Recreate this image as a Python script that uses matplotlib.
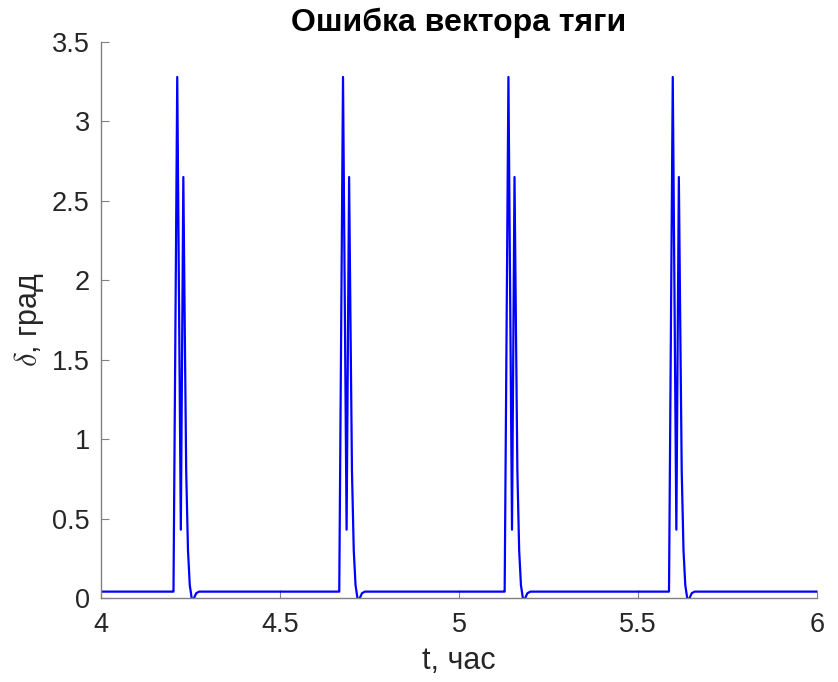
import numpy as np
import matplotlib.pyplot as plt

plt.rcParams['font.family'] = ['Liberation Sans', 'DejaVu Sans']
plt.rcParams['mathtext.fontset'] = 'cm'

# Данные
x_range = [4, 6]
spike_starts = [4.202, 4.665, 5.127, 5.586]
# форма одного всплеска: смещение по времени (час) и значение (град)
shape_dt = [0.0, 0.0005, 0.011, 0.021, 0.028, 0.032, 0.036, 0.041, 0.046, 0.052, 0.057, 0.064, 0.072]
shape_val = [0.04, 0.04, 3.28, 0.43, 2.65, 1.70, 0.80, 0.30, 0.08, -0.01, -0.005, 0.03, 0.04]
baseline = 0.04

t = [x_range[0]]
d = [baseline]
for s in spike_starts:
    for dt, v in zip(shape_dt, shape_val):
        t.append(s + dt)
        d.append(v)
t.append(x_range[1])
d.append(baseline)

fig = plt.figure(figsize=(8.38, 6.82), dpi=100)
ax = fig.add_axes([0.1205, 0.1232, 0.8545, 0.8152])
ax.plot(t, d, color='#0000ff', linewidth=1.6)

ax.set_xlim(4, 6)
ax.set_ylim(0, 3.5)
ax.set_xticks([4, 4.5, 5, 5.5, 6])
ax.set_xticklabels(['4', '4.5', '5', '5.5', '6'])
ax.set_yticks([0, 0.5, 1, 1.5, 2, 2.5, 3, 3.5])
ax.set_yticklabels(['0', '0.5', '1', '1.5', '2', '2.5', '3', '3.5'])

for side in ['top', 'right']:
    ax.spines[side].set_visible(False)
for side in ['left', 'bottom']:
    ax.spines[side].set_color('#808080')
    ax.spines[side].set_linewidth(1.0)
ax.tick_params(direction='in', length=6, color='#808080', labelsize=19.5,
               labelcolor='#262626')
ax.tick_params(axis='x', pad=10)
ax.tick_params(axis='y', pad=8)

ax.set_title('Ошибка вектора тяги', fontsize=23, fontweight='bold', pad=8)
ax.set_xlabel('t, час', fontsize=22, color='#262626', labelpad=6)
ax.set_ylabel(r'$\delta$, град', fontsize=22, color='#262626', labelpad=4)

plt.savefig('out.png', dpi=100)
